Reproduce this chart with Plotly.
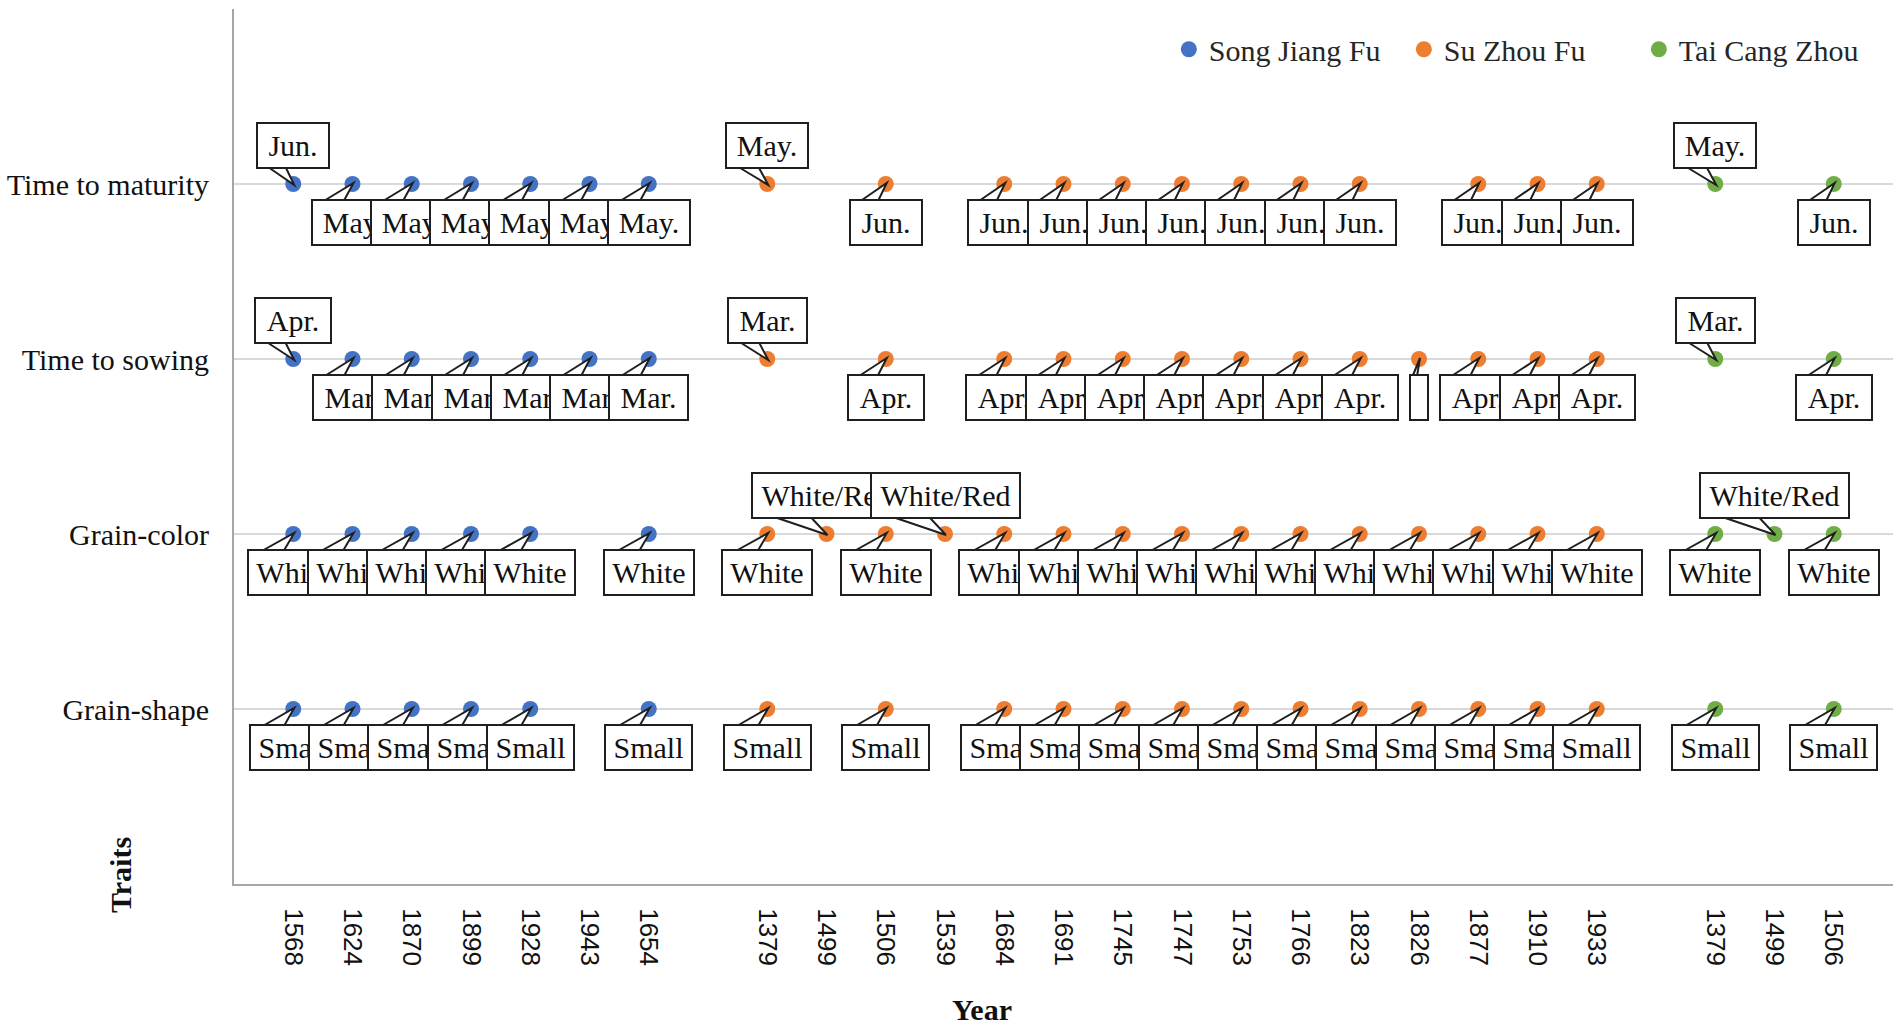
import plotly.graph_objects as go

# ---------------- data ----------------
series_names = ["Song Jiang Fu", "Su Zhou Fu", "Tai Cang Zhou"]
traits = ["Time to maturity", "Time to sowing", "Grain-color", "Grain-shape"]

song_years = ["1568", "1624", "1870", "1899", "1928", "1943", "1654"]
su_years = ["1379", "1499", "1506", "1539", "1684", "1691", "1745", "1747",
            "1753", "1766", "1823", "1826", "1877", "1910", "1933"]
tai_years = ["1379", "1499", "1506"]

song_maturity = ["Jun.", "May.", "May.", "May.", "May.", "May.", "May."]
song_sowing = ["Apr.", "Mar.", "Mar.", "Mar.", "Mar.", "Mar.", "Mar."]
song_color = ["White", "White", "White", "White", "White", None, "White"]
song_shape = ["Small", "Small", "Small", "Small", "Small", None, "Small"]

su_maturity = ["May.", None, "Jun.", None, "Jun.", "Jun.", "Jun.", "Jun.",
               "Jun.", "Jun.", "Jun.", None, "Jun.", "Jun.", "Jun."]
su_sowing = ["Mar.", None, "Apr.", None, "Apr.", "Apr.", "Apr.", "Apr.",
             "Apr.", "Apr.", "Apr.", "", "Apr.", "Apr.", "Apr."]
su_color = ["White", "White/Red", "White", "White/Red", "White", "White", "White", "White",
            "White", "White", "White", "White", "White", "White", "White"]
su_shape = ["Small", None, "Small", None, "Small", "Small", "Small", "Small",
            "Small", "Small", "Small", "Small", "Small", "Small", "Small"]

tai_maturity = ["May.", None, "Jun."]
tai_sowing = ["Mar.", None, "Apr."]
tai_color = ["White", "White/Red", "White"]
tai_shape = ["Small", None, "Small"]

series_years = [song_years, su_years, tai_years]
series_labels = [
    [song_maturity, song_sowing, song_color, song_shape],
    [su_maturity, su_sowing, su_color, su_shape],
    [tai_maturity, tai_sowing, tai_color, tai_shape],
]

# ---------------- styles ----------------
colors = ["#4472C4", "#ED7D31", "#70AD47"]
SERIF = "Liberation Serif, Times New Roman, serif"
SANS = "Liberation Sans, Arial, sans-serif"
TEXT = "#111111"
BOX_LINE = "#1f1f1f"
BOX_W = {"May.": 82, "Jun.": 72, "Mar.": 79, "Apr.": 76,
         "White": 90, "Small": 87, "White/Red": 149, "": 18}
BOX_H = 45
GAP = 16

# category slots: groups separated by one empty slot
positions = []
slot = 1
for yrs in series_years:
    positions.append(list(range(slot, slot + len(yrs))))
    slot += len(yrs) + 1
n_slots = slot - 2

trait_y = {t: len(traits) - i for i, t in enumerate(traits)}

fig = go.Figure()
annotations = []
shapes = []

for s, name in enumerate(series_names):
    xs, ys = [], []
    for t, trait in enumerate(traits):
        labels = series_labels[s][t]
        yv = trait_y[trait]
        last = labels[-1]
        for i, lab in enumerate(labels):
            if lab is None:
                continue
            xv = positions[s][i]
            xs.append(xv)
            ys.append(yv)
            above = bool(lab) and lab != last
            w = BOX_W[lab]
            sign = 1 if above else -1
            # callout tail (wedge) from box edge to the point
            x_a, x_b = -0.33 * w, -0.10 * w
            shapes.append(dict(
                type="path", xref="x", yref="y",
                xsizemode="pixel", ysizemode="pixel",
                xanchor=xv, yanchor=yv,
                path=f"M {x_a:.1f},{sign*GAP} L 1,{-sign} L {x_b:.1f},{sign*GAP} Z",
                fillcolor="white", line=dict(color=BOX_LINE, width=2),
                layer="above",
            ))
            annotations.append(dict(
                text=lab if lab else " ", x=xv, y=yv, xref="x", yref="y",
                showarrow=False, xanchor="center",
                yanchor="bottom" if above else "top",
                yshift=(GAP - 1) * sign,
                width=w - 2, height=BOX_H - 2,
                bgcolor="white", bordercolor=BOX_LINE, borderwidth=2, borderpad=0,
                font=dict(family=SERIF, size=30, color=TEXT),
            ))
    fig.add_trace(go.Scatter(
        x=xs, y=ys, mode="markers", name=name,
        marker=dict(color=colors[s], size=16),
        hoverinfo="skip",
    ))

# axis titles
annotations.append(dict(text="<b>Year</b>", xref="paper", yref="paper",
                        x=0.4506, y=-0.1432, showarrow=False,
                        xanchor="center", yanchor="middle",
                        font=dict(family=SERIF, size=30, color=TEXT)))
annotations.append(dict(text="<b>Traits</b>", xref="paper", yref="paper",
                        x=-0.0681, y=0.0103, showarrow=False, textangle=-90,
                        xanchor="center", yanchor="middle",
                        font=dict(family=SERIF, size=30, color=TEXT)))

tickvals = [p for grp in positions for p in grp]
ticktext = [y for yrs in series_years for y in yrs]

fig.update_layout(
    width=1901, height=1025,
    margin=dict(l=234, r=8, t=9, b=141, autoexpand=False),
    plot_bgcolor="white", paper_bgcolor="white",
    showlegend=True,
    legend=dict(orientation="h", x=0.5635, y=0.954, xanchor="left", yanchor="middle",
                font=dict(family=SERIF, size=30, color="#262626"),
                bgcolor="rgba(0,0,0,0)", entrywidth=190, itemclick=False),
    annotations=annotations,
    shapes=shapes,
    xaxis=dict(range=[0, n_slots + 1], tickmode="array", tickvals=tickvals,
               ticktext=ticktext, tickangle=90, showgrid=False, zeroline=False,
               showline=True, linecolor="#a6a6a6", linewidth=2,
               tickfont=dict(family=SANS, size=26, color=TEXT),
               ticklabelstandoff=17, fixedrange=True, automargin=False),
    yaxis=dict(range=[0, len(traits) + 1], tickmode="array",
               tickvals=[1, 2, 3, 4, 5],
               ticktext=["Grain-shape", "Grain-color", "Time to sowing", "Time to maturity", ""],
               showgrid=True, gridcolor="#d9d9d9", gridwidth=1.5, zeroline=False,
               showline=True, linecolor="#a6a6a6", linewidth=2,
               tickfont=dict(family=SERIF, size=30, color=TEXT),
               ticklabelstandoff=17, fixedrange=True, automargin=False),
)

fig.write_html("out.html", post_script="document.body.style.margin='0';",
               config={"displayModeBar": False})
